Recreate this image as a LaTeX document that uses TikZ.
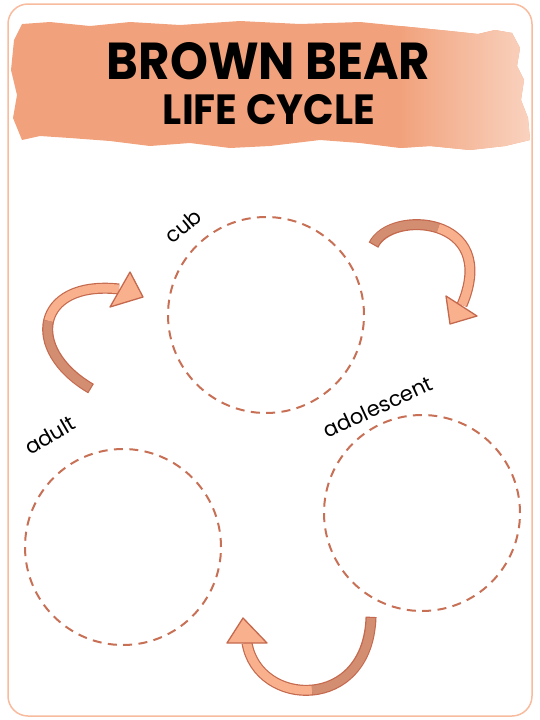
\documentclass[tikz,border=0pt]{standalone}
\usepackage{fontspec}
\setmainfont{Poppins}
\usepackage{graphicx}
\usepackage{tikz}
\usetikzlibrary{calc}
\definecolor{frame}{RGB}{248,187,158}
\definecolor{brush}{RGB}{241,162,124}
\definecolor{brushlight}{RGB}{250,214,196}
\definecolor{ring}{RGB}{199,112,85}
\definecolor{arrowedge}{RGB}{196,105,78}
\definecolor{arrowdark}{RGB}{211,141,113}
\definecolor{arrowlight}{RGB}{249,176,141}
\tikzset{%
  stage/.style={draw=ring, circle, line width=2, dash pattern=on 9pt off 6.4pt,
    minimum size=196pt, inner sep=0pt},% dashed ring of a stage
  stagename/.style={font=\fontsize{21}{21}\selectfont, inner sep=0pt},% name of a stage
  shaftedge/.style={draw=arrowedge, line width=11, shorten <=-1.2pt},% outline of a bent arrow
  shaftdark/.style={draw=arrowdark, line width=8.6},% tail half
  shaftlight/.style={draw=arrowlight, line width=8.6},% head half
  head/.style={fill=arrowlight, draw=arrowedge, line width=1.3, line join=round}% arrow head
}
\newcommand*{\brushpath}{(14,40) -- (22,24) -- (50,22) -- (90,26) -- (130,22)
  -- (180,25) -- (240,21) -- (300,24) -- (360,22) -- (410,27) -- (450,31)
  -- (478,34) -- (495,30) -- (512,33) -- (520,48) -- (517,66) -- (524,80)
  -- (521,100) -- (528,118) -- (530,140) -- (505,146) -- (470,150) -- (430,146)
  -- (400,148) -- (360,143) -- (320,140) -- (270,146) -- (230,148) -- (190,143)
  -- (150,146) -- (110,141) -- (70,138) -- (40,136) -- (22,140) -- (13,118)
  -- (17,95) -- (11,70) -- cycle}

\begin{document}
\begin{tikzpicture}[x=1pt, y=-1pt]
\useasboundingbox (0,0) rectangle (540,720);
\draw[frame, line width=1.5, rounded corners=20] (8,4) rectangle (532,716);

% title brush, fading out at its right end
\fill[brush] \brushpath;
\begin{scope}
  \clip \brushpath;
  \shade[left color=brush, right color=brushlight] (400,0) rectangle (540,160);
\end{scope}
\node (title) at (268.5,61.5) {\resizebox{323pt}{37pt}{\bfseries BROWN BEAR}};
\node (subtitle) at (269,110) {\resizebox{212pt}{30pt}{\bfseries LIFE CYCLE}};

% stages
\node[stage] (cub) at (266,315) {};
\node[stage] (adolescent) at (422,513) {};
\node[stage] (adult) at (123,547) {};
\node[stagename, rotate=40] (cubname) at (183,226) {cub};
\node[stagename, rotate=25] (adolescentname) at (378,407) {adolescent};
\node[stagename, rotate=30] (adultname) at (50,435) {adult};

% cub -> adolescent
\coordinate (t2) at (374,244);
\coordinate (m2) at (438.25,228);
\coordinate (b2) at (462,305);
\draw[shaftedge] (t2) .. controls (382,227) and (413.5,219.75) .. (m2)
  .. controls (463,236.25) and (481,260) .. (b2);
\draw[shaftlight] (m2) .. controls (463,236.25) and (481,260) .. (b2);
\draw[shaftdark] (t2) .. controls (382,227) and (413.5,219.75) .. (m2);
\draw[head] (446,296) -- (450,324) -- (477,316) -- cycle;

% adolescent -> adult
\coordinate (t3) at (371,618);
\coordinate (m3) at (312,690.1);
\coordinate (b3) at (247,643);
\draw[shaftedge] (t3) .. controls (369.5,665) and (341.25,687.5) .. (m3)
  .. controls (282.75,692.75) and (252.5,675.5) .. (b3);
\draw[shaftlight] (m3) .. controls (282.75,692.75) and (252.5,675.5) .. (b3);
\draw[shaftdark] (t3) .. controls (369.5,665) and (341.25,687.5) .. (m3);
\draw[head] (227,643) -- (243,618) -- (267,643) -- cycle;

% adult -> cub
\coordinate (t1) at (90,388);
\coordinate (m1) at (48.6,320.9);
\coordinate (b1) at (119,289);
\draw[shaftedge] (t1) .. controls (57.5,369) and (43.75,342) .. (m1)
  .. controls (53.5,299.75) and (77,284.5) .. (b1);
\draw[shaftlight] (m1) .. controls (53.5,299.75) and (77,284.5) .. (b1);
\draw[shaftdark] (t1) .. controls (57.5,369) and (43.75,342) .. (m1);
\draw[head] (130,272) -- (143,297) -- (110,307) -- cycle;
\end{tikzpicture}
\end{document}
